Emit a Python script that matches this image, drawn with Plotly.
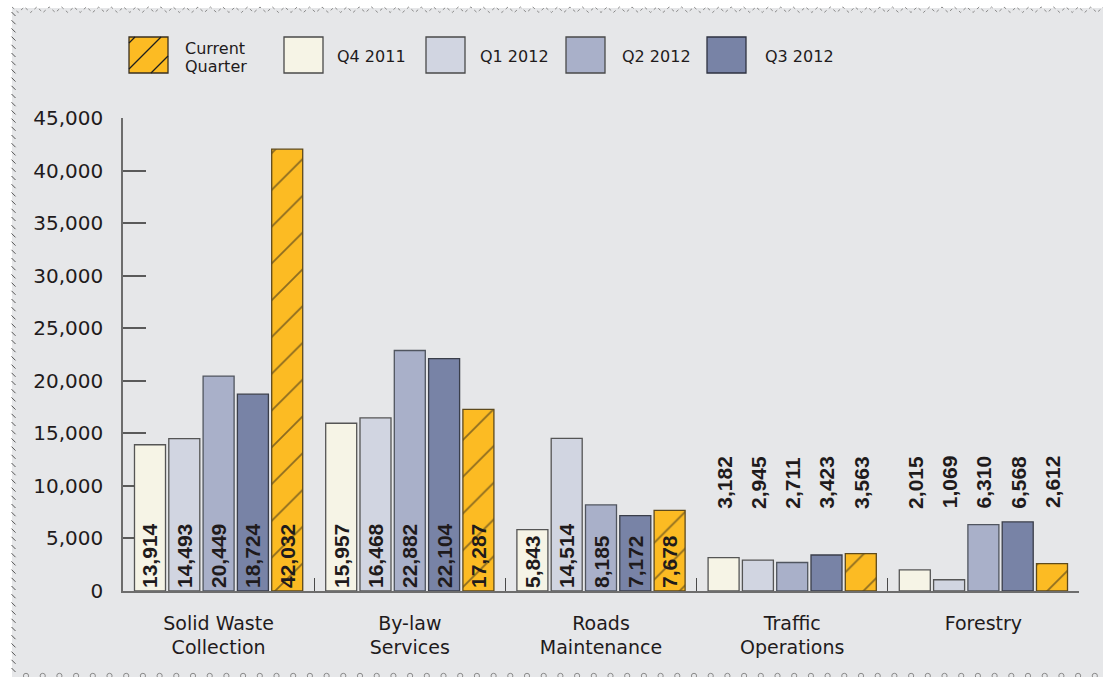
import plotly.graph_objects as go

# ---- data -------------------------------------------------------------
categories = ["Solid Waste<br>Collection", "By-law<br>Services", "Roads<br>Maintenance",
              "Traffic<br>Operations", "Forestry"]
q4_2011 = [13914, 15957, 5843, 3182, 2015]
q1_2012 = [14493, 16468, 14514, 2945, 1069]
q2_2012 = [20449, 22882, 8185, 2711, 6310]
q3_2012 = [18724, 22104, 7172, 3423, 6568]
current_quarter = [42032, 17287, 7678, 3563, 2612]

y_ticks = [0, 5000, 10000, 15000, 20000, 25000, 30000, 35000, 40000, 45000]

# categories whose values are printed above the bars instead of inside
outside_label_cats = {3, 4}
outside_label_level = 7650

# ---- page geometry ------------------------------------------------------
W, H = 1103, 677
ML, MR, MT, MB = 123, 24, 118, 86
PW, PH = W - ML - MR, H - MT - MB
BARGAP, BARGROUPGAP = 0.103, 0.096


def px(x):
    return (x - ML) / PW


def py(y):
    return (H - MB - y) / PH


BG = "#e6e7e9"
TXT = "#1f1b1c"
BAR_FONT = dict(family="Liberation Sans, Arial, sans-serif", size=21, color=TXT)

series = [
    ("Q4 2011", q4_2011, "#f6f4e6", "#555555", None),
    ("Q1 2012", q1_2012, "#d1d5e1", "#555555", None),
    ("Q2 2012", q2_2012, "#a9b0c9", "#50555f", None),
    ("Q3 2012", q3_2012, "#7883a6", "#3a3e4a", None),
    ("Current Quarter", current_quarter, "#fcbb23", "#5e4a1c",
     dict(shape="/", fgcolor="#1e1e1e", bgcolor="#fcbb23", size=26, solidity=0.07)),
]

fig = go.Figure()
for name, vals, color, edge, pattern in series:
    marker = dict(color=color, line=dict(color=edge, width=1.3))
    if pattern:
        marker["pattern"] = pattern
    fig.add_trace(go.Bar(
        name=name, x=categories, y=vals, marker=marker,
        text=["<b>{:,}</b>".format(v) if i not in outside_label_cats else "" for i, v in enumerate(vals)],
        textposition="inside", insidetextanchor="start", textangle=-90,
        insidetextfont=BAR_FONT, constraintext="none",
        showlegend=False, hoverinfo="skip",
    ))

# value labels set on a common level for the short bars
slot_px = PW / len(categories) * (1 - BARGAP) / len(series)
annotations = []
for si, (name, vals, *_rest) in enumerate(series):
    for ci in outside_label_cats:
        annotations.append(dict(
            x=categories[ci], y=outside_label_level, xref="x", yref="y",
            text="<b>{:,}</b>".format(vals[ci]), textangle=-90, showarrow=False,
            xanchor="center", yanchor="bottom",
            xshift=(si - (len(series) - 1) / 2) * slot_px,
            font=BAR_FONT,
        ))

# ---- legend (large swatches across the top) ------------------------------
LEG_FONT = dict(family="DejaVu Sans, sans-serif", size=16, color=TXT)
legend_items = [
    ("Current Quarter", 129, "#fcbb23", "#3a3020", ["Current", "Quarter"], 183),
    ("Q4 2011", 284, "#f6f4e6", "#4a4a4a", ["Q4 2011"], 335),
    ("Q1 2012", 426, "#d1d5e1", "#4a4a4a", ["Q1 2012"], 478),
    ("Q2 2012", 566, "#a9b0c9", "#4a4a4a", ["Q2 2012"], 620),
    ("Q3 2012", 707, "#7883a6", "#2e3240", ["Q3 2012"], 763),
]
shapes = []
SW_T, SW_B, SW_W = 37, 73, 39
for name, x0, fill, edge, lines, tx in legend_items:
    shapes.append(dict(type="rect", xref="paper", yref="paper",
                       x0=px(x0), x1=px(x0 + SW_W), y0=py(SW_B), y1=py(SW_T),
                       fillcolor=fill, line=dict(color=edge, width=1.3)))
    if name == "Current Quarter":
        # diagonal hatch lines (x + y = c) clipped to the swatch
        for c in (172, 198, 224):
            pts = []
            for xx in (x0, x0 + SW_W):
                yy = c - xx
                pts.append((xx, min(max(yy, SW_T), SW_B)))
            (xa, ya), (xb, yb) = pts
            xa = c - ya
            xb = c - yb
            shapes.append(dict(type="line", xref="paper", yref="paper",
                               x0=px(xa), y0=py(ya), x1=px(xb), y1=py(yb),
                               line=dict(color="#1e1e1e", width=1.2)))
    if len(lines) == 2:
        annotations.append(dict(xref="paper", yref="paper", x=px(tx), y=py(48),
                                text=lines[0], showarrow=False, xanchor="left",
                                yanchor="middle", font=LEG_FONT))
        annotations.append(dict(xref="paper", yref="paper", x=px(tx), y=py(66),
                                text=lines[1], showarrow=False, xanchor="left",
                                yanchor="middle", font=LEG_FONT))
    else:
        annotations.append(dict(xref="paper", yref="paper", x=px(tx), y=py(56),
                                text=lines[0], showarrow=False, xanchor="left",
                                yanchor="middle", font=LEG_FONT))

# ---- page border decorations --------------------------------------------
BORDER = "#8a8a8a"
# white strips on the top and left edges
shapes.append(dict(type="rect", xref="paper", yref="paper", layer="below",
                   x0=px(0), x1=px(W), y0=py(8), y1=py(0),
                   fillcolor="white", line=dict(width=0)))
shapes.append(dict(type="rect", xref="paper", yref="paper", layer="below",
                   x0=px(0), x1=px(12), y0=py(H), y1=py(0),
                   fillcolor="white", line=dict(width=0)))
# top zigzag edge
zz = []
x = 12.0
k = 0
while x <= W + 6:
    zz.append((x, 7 if k % 2 == 0 else 12.5))
    x += 6.2
    k += 1
path = "M " + " L ".join("{:.5f},{:.5f}".format(px(a), py(b)) for a, b in zz)
shapes.append(dict(type="path", xref="paper", yref="paper", path=path,
                   line=dict(color=BORDER, width=1, dash="dot")))
# left edge dashes
y = 12.0
while y < H - 4:
    shapes.append(dict(type="line", xref="paper", yref="paper",
                       x0=px(11.5), y0=py(y), x1=px(15.5), y1=py(y + 4),
                       line=dict(color="#555555", width=1)))
    y += 8.2
# bottom row of small rings
x = 26.0
while x < W:
    shapes.append(dict(type="circle", xref="paper", yref="paper",
                       x0=px(x - 2.6), x1=px(x + 2.6), y0=py(678.5), y1=py(673.3),
                       line=dict(color=BORDER, width=1)))
    x += 16.7

AX_FONT = dict(family="DejaVu Sans, sans-serif", size=20, color=TXT)

fig.update_layout(
    width=W, height=H,
    margin=dict(l=ML, r=MR, t=MT, b=MB, pad=0),
    paper_bgcolor=BG, plot_bgcolor=BG,
    barmode="group", bargap=BARGAP, bargroupgap=BARGROUPGAP,
    shapes=shapes, annotations=annotations,
    showlegend=False,
    xaxis=dict(
        type="category", range=[-0.5, len(categories) - 0.5],
        showline=True, linecolor="#6d6d6d", linewidth=1.5,
        ticks="inside", tickson="boundaries", ticklen=13, tickwidth=1.3,
        tickcolor="#4a4a4a", showgrid=False, zeroline=False,
        tickfont=dict(family="DejaVu Sans, sans-serif", size=19, color=TXT),
        ticklabelstandoff=14, layer="below traces", fixedrange=True,
    ),
    yaxis=dict(
        range=[0, 45000], tickvals=y_ticks, tickformat=",",
        showline=True, linecolor="#6d6d6d", linewidth=1.5,
        ticks="inside", ticklen=23, tickwidth=1.5, tickcolor="#5a5a5a",
        showgrid=False, zeroline=False, tickfont=AX_FONT,
        ticklabelstandoff=14, layer="below traces", fixedrange=True,
    ),
)

fig.write_html("out.html")
